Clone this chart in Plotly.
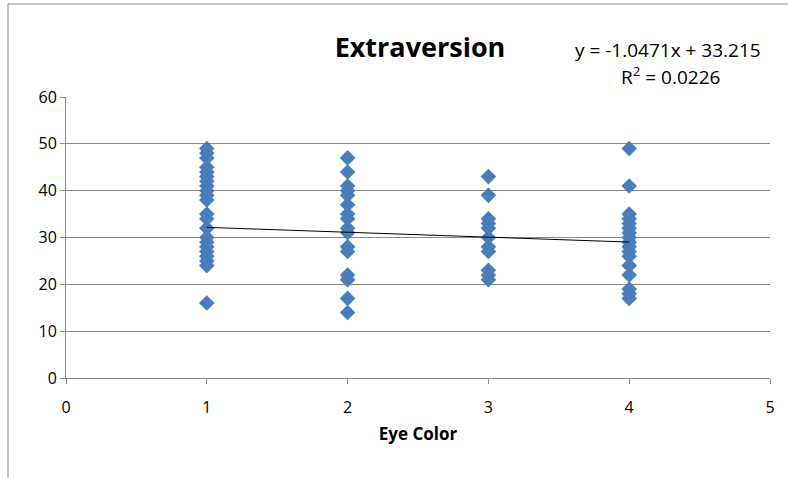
import plotly.graph_objects as go

# Data (Eye Color category vs Extraversion score)
eye1 = [49, 48, 47, 45, 44, 43, 42, 41, 40, 39, 38, 35, 34, 32, 30, 29, 28, 27, 26, 25, 24, 16]
eye2 = [47, 44, 41, 40, 39, 37, 35, 34, 32, 31, 28, 27, 22, 21, 17, 14]
eye3 = [43, 39, 34, 33, 32, 30, 28, 27, 23, 22, 21]
eye4 = [49, 41, 35, 34, 33, 32, 31, 30, 29, 28, 27, 26, 24, 22, 19, 18, 17]

trend_slope = -1.0471
trend_intercept = 33.215
r_squared = 0.0226
trend_x = [1, 4]

x_vals = [1] * len(eye1) + [2] * len(eye2) + [3] * len(eye3) + [4] * len(eye4)
y_vals = eye1 + eye2 + eye3 + eye4

FONT = "Open Sans"
GRID = "#8a8a8a"

fig = go.Figure()
fig.add_trace(go.Scatter(
    x=x_vals, y=y_vals, mode="markers",
    marker=dict(symbol="diamond", size=12, color="#4a7ebb", line=dict(width=0)),
    showlegend=False, hoverinfo="x+y"))
fig.add_trace(go.Scatter(
    x=trend_x, y=[trend_slope * v + trend_intercept for v in trend_x],
    mode="lines", line=dict(color="black", width=1), showlegend=False))

fig.update_layout(
    width=788, height=478,
    margin=dict(l=66, r=18, t=97, b=100),
    paper_bgcolor="white", plot_bgcolor="white",
    font=dict(family=FONT, color="black", size=16),
    title=dict(text="<b>Extraversion</b>", x=(420 / 788), xanchor="center",
               y=1 - 48 / 478, yanchor="middle", font=dict(family=FONT, size=27)),
    xaxis=dict(range=[0, 5], dtick=1, showgrid=False, zeroline=False,
               showline=True, linecolor=GRID, linewidth=1,
               ticks="outside", ticklen=5, tickcolor=GRID,
               ticklabelstandoff=10,
               tickfont=dict(size=16),
               title=dict(text="<b>Eye Color</b>", font=dict(size=17), standoff=10)),
    yaxis=dict(range=[0, 60], dtick=10, showgrid=True, gridcolor=GRID, gridwidth=1,
               zeroline=False, showline=True, linecolor=GRID, linewidth=1,
               ticks="outside", ticklen=5, tickcolor=GRID,
               tickfont=dict(size=16)),
)

fig.add_annotation(
    xref="paper", yref="paper", x=(668 - 66) / 704, y=1 + (97 - 50) / 281,
    text=f"y = {trend_slope}x + {trend_intercept}",
    showarrow=False, xanchor="center", yanchor="middle",
    font=dict(family=FONT, size=19))
fig.add_annotation(
    xref="paper", yref="paper", x=(670 - 66) / 704, y=1 + (97 - 76) / 281,
    text=f"R<sup>2</sup> = {r_squared}",
    showarrow=False, xanchor="center", yanchor="middle",
    font=dict(family=FONT, size=19))

# outer chart frame (partially cut off at right/bottom)
fig.add_shape(type="rect", xref="paper", yref="paper",
              x0=(8 - 66) / 704, x1=(800 - 66) / 704,
              y0=-(490 - 378) / 281, y1=1 + (97 - 4) / 281,
              line=dict(color="#8a8a8a", width=1), fillcolor="rgba(0,0,0,0)")

fig.write_html("out.html")
